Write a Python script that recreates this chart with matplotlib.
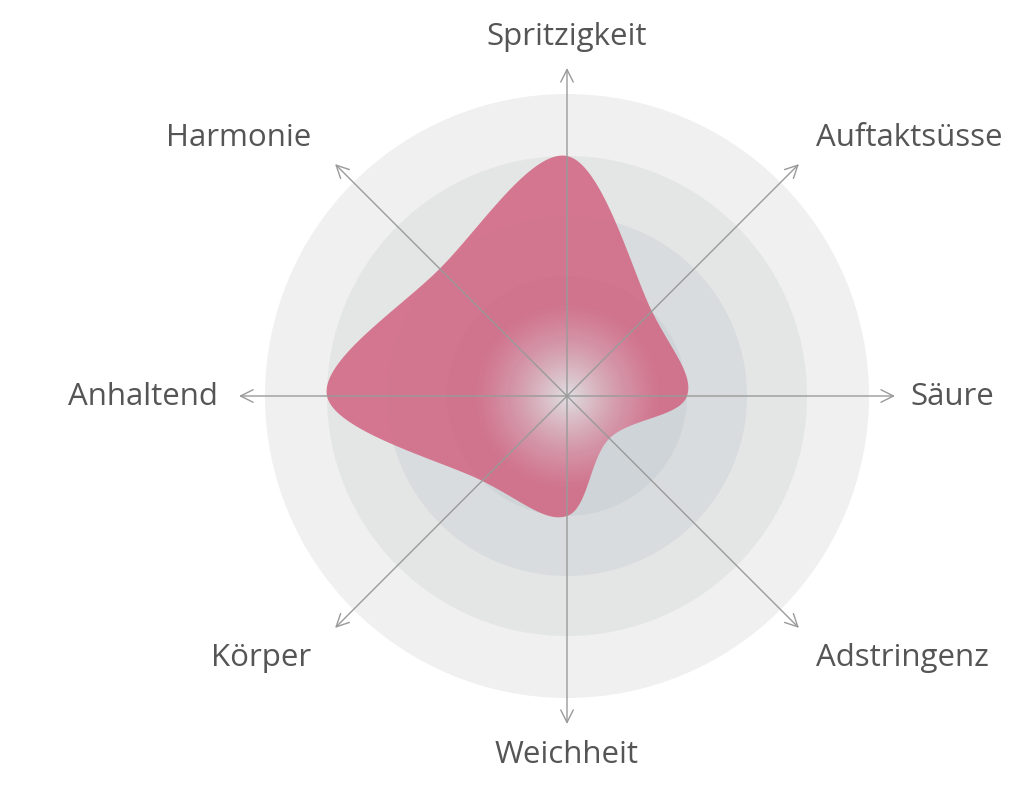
import numpy as np
import matplotlib
matplotlib.use("Agg")
import matplotlib.pyplot as plt
from matplotlib.patches import Circle, Polygon

# taste profile, clockwise from top
labels = ["Spritzigkeit", "Auftaktsüsse", "Säure", "Adstringenz",
          "Weichheit", "Körper", "Anhaltend", "Harmonie"]
values = [4, 2, 2, 1, 2, 2, 4, 3]
levels = [5, 4, 3, 2, 1]
ring_colors = ["#f0f0f0", "#e4e5e5", "#d9dcdf", "#ced4d7", "#c4cbce"]

W, H = 1024, 789
cx, cy = 567, 396
unit = 60.0

plt.rcParams['font.family'] = ['Open Sans', 'DejaVu Sans']

fig = plt.figure(figsize=(W / 100, H / 100), dpi=100)
ax = fig.add_axes([0, 0, 1, 1])
ax.axis('off')

# background rings
for lv, col in zip(levels, ring_colors):
    ax.add_patch(Circle((cx, cy), lv * unit + (2 if lv == 5 else 0), fc=col, ec='none', zorder=1))

n = len(labels)
ang = np.pi / 2 - np.arange(n) * 2 * np.pi / n


def catmull_closed(px, py, steps=40):
    P = np.column_stack([px, py])
    out = []
    m = len(P)
    for i in range(m):
        p0, p1, p2, p3 = P[i - 1], P[i], P[(i + 1) % m], P[(i + 2) % m]
        t = np.linspace(0, 1, steps, endpoint=False)[:, None]
        seg = 0.5 * ((2 * p1) + (-p0 + p2) * t + (2 * p0 - 5 * p1 + 4 * p2 - p3) * t ** 2
                     + (-p0 + 3 * p1 - 3 * p2 + p3) * t ** 3)
        out.append(seg)
    return np.vstack(out)


r = np.array(values) * unit
px = cx + r * np.cos(ang)
py = cy - r * np.sin(ang)
curve = catmull_closed(px, py)

# shape filled with a radial gradient (light centre -> pink)
yy, xx = np.mgrid[0:H, 0:W]
d = np.hypot(xx - cx, yy - cy)
f = np.clip(1 - d / 95.0, 0, 1) ** 1.3
pink = np.array([0.82, 0.37, 0.49])
centre = np.array([0.90, 0.89, 0.90])
img = np.zeros((H, W, 4))
img[..., :3] = pink * (1 - f[..., None]) + centre * f[..., None]
img[..., 3] = 0.82
im = ax.imshow(img, extent=(0, W, H, 0), zorder=2, interpolation='bilinear')
clip = Polygon(curve, closed=True, fc='none', ec='none', transform=ax.transData)
ax.add_patch(clip)
im.set_clip_path(clip)
ax.set_xlim(0, W)
ax.set_ylim(H, 0)

# axes with open arrows
axis_len = 328
for a in ang:
    tx = cx + axis_len * np.cos(a)
    ty = cy - axis_len * np.sin(a)
    ax.annotate("", xy=(tx, ty), xytext=(cx, cy),
                arrowprops=dict(arrowstyle="->,head_length=0.9,head_width=0.45",
                                color="#9a9a9a", lw=1.0, shrinkA=0, shrinkB=0),
                zorder=4)

# labels
label_pos = [
    (567, 37, 'center'),
    (816, 138, 'left'),
    (910, 397, 'left'),
    (816, 658, 'left'),
    (567, 755, 'center'),
    (311, 658, 'right'),
    (218, 397, 'right'),
    (311, 138, 'right'),
]
for lab, (x, y, ha) in zip(labels, label_pos):
    ax.text(x, y, lab, ha=ha, va='center', fontsize=22.5, color="#555555", zorder=5)

fig.savefig("out.png", dpi=100)
